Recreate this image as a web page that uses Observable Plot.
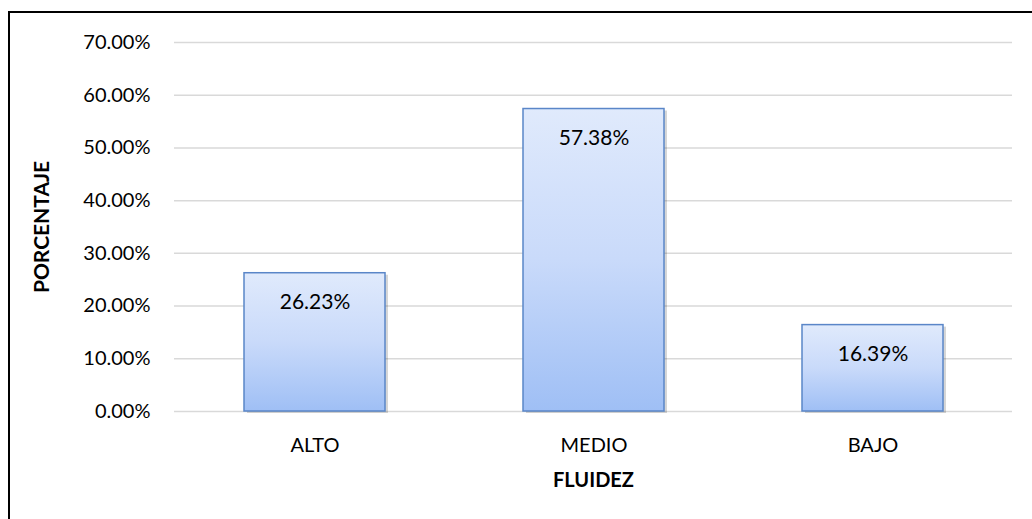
<!DOCTYPE html>
<html><head><meta charset="utf-8">
<script src="https://cdn.jsdelivr.net/npm/d3@7"></script>
<script src="https://cdn.jsdelivr.net/npm/@observablehq/plot@0.6"></script>
<style>
body{margin:0;background:#fff;}
#wrap{position:relative;width:1032px;height:519px;overflow:hidden;}
#frame{position:absolute;left:8px;top:11px;width:1100px;height:600px;border-left:2px solid #000;border-top:2px solid #000;pointer-events:none;}
</style>
</head><body>
<div id="wrap"><div id="frame"></div></div>
<script>
const categories = ["ALTO", "MEDIO", "BAJO"];
const values = [0.2623, 0.5738, 0.1639];
const yTicks = [0, 0.1, 0.2, 0.3, 0.4, 0.5, 0.6, 0.7];
const data = categories.map((c, i) => ({cat: c, v: values[i]}));
const fmt = d3.format(".2%");
const font = "Lato, 'Open Sans', sans-serif";

const chart = Plot.plot({
  width: 1032, height: 519,
  marginLeft: 174, marginRight: 20, marginTop: 42, marginBottom: 108,
  style: {fontFamily: font, fontSize: "20px", color: "#000", background: "transparent"},
  x: {domain: categories, paddingInner: 0.495, paddingOuter: 0.2475, label: null},
  y: {domain: [0, 0.7], label: null},
  marks: [
    Plot.gridY(yTicks, {stroke: "#d9d9d9", strokeOpacity: 1, strokeWidth: 1.5}),
    Plot.axisY(yTicks, {tickFormat: fmt, tickSize: 0, tickPadding: 24, fontSize: 20, label: null}),
    Plot.axisX({tickSize: 0, tickPadding: 26, fontSize: 20, label: null}),
    Plot.barY(data, {x: "cat", y: "v", fill: "#000", fillOpacity: 0.16, dx: 3, dy: 2}),
    Plot.barY(data, {x: "cat", y: "v", fill: "url(#bargrad)", stroke: "#5a86c8", strokeWidth: 1.5}),
    Plot.text(data, {x: "cat", y: "v", text: d => fmt(d.v), dy: 29, fontSize: 21, fill: "#000"}),
    Plot.text(["PORCENTAJE"], {frameAnchor: "left", textAnchor: "middle", lineAnchor: "middle", rotate: -90, dx: -132, fontWeight: "bold", fontSize: 21, fill: "#000"}),
    Plot.text(["FLUIDEZ"], {frameAnchor: "bottom", lineAnchor: "middle", dy: 69, fontWeight: "bold", fontSize: 20, fill: "#000"})
  ]
});
const svg = d3.select(chart);
const defs = svg.insert("defs", ":first-child");
const g = defs.append("linearGradient").attr("id", "bargrad").attr("x1", 0).attr("y1", 0).attr("x2", 0).attr("y2", 1);
g.append("stop").attr("offset", "0%").attr("stop-color", "#e0eafc");
g.append("stop").attr("offset", "50%").attr("stop-color", "#c9dafa");
g.append("stop").attr("offset", "100%").attr("stop-color", "#9fbff5");
document.getElementById("wrap").prepend(chart);
</script>
</body></html>
